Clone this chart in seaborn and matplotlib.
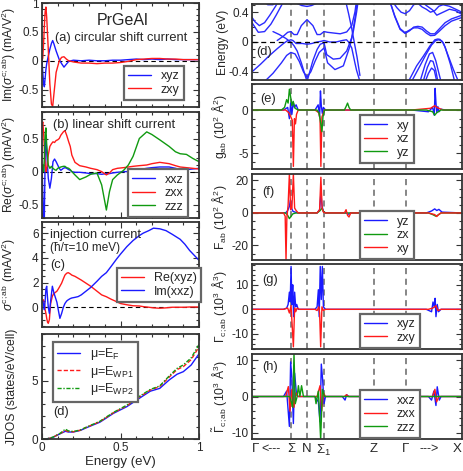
import numpy as np
import seaborn as sns
import matplotlib.pyplot as plt
import matplotlib.ticker as mtick

BLUE = "#1a1aff"
RED = "#ff1a1a"
GREEN = "#109a10"

# ---------------- left column: photocurrents and JDOS ----------------
x_a = [0, 0.005, 0.01, 0.015, 0.02, 0.025, 0.03, 0.04, 0.05, 0.06, 0.068, 0.075, 0.09,
       0.11, 0.125, 0.14, 0.155, 0.17, 0.2, 0.25, 0.3, 0.35, 0.4, 0.45, 0.5, 0.55, 0.6,
       0.65, 0.7, 0.75, 0.8, 0.85, 0.9, 0.95, 1.0]
circ_xyz = [0, -0.2, -0.38, -0.45, -0.3, -0.15, -0.05, 0.08, 0.2, 0.3, 0.35, 0.3, 0.17,
            0.02, -0.05, -0.11, -0.06, -0.01, 0.01, 0.0, 0.01, 0.0, 0.0, 0.01, 0.01, 0.02,
            0.03, 0.02, 0.03, 0.02, 0.03, 0.02, 0.02, 0.02, 0.02]
circ_zxy = [0, 0.05, 0.3, 0.6, 0.85, 0.93, 0.75, 0.2, -0.4, -0.75, -0.79, -0.6, -0.2,
            0.0, 0.06, 0.07, 0.03, 0.0, -0.02, -0.04, -0.04, -0.05, -0.04, -0.04, -0.03,
            -0.01, 0.02, 0.03, 0.04, 0.04, 0.03, 0.03, 0.02, 0.02, 0.02]

x_b = [0, 0.005, 0.01, 0.015, 0.02, 0.025, 0.03, 0.04, 0.05, 0.06, 0.07, 0.08, 0.09, 0.1,
       0.11, 0.12, 0.136, 0.146, 0.157, 0.17, 0.18, 0.19, 0.21, 0.24, 0.28, 0.31, 0.35,
       0.38, 0.41, 0.43, 0.45, 0.48, 0.52, 0.55, 0.58, 0.62, 0.667, 0.7, 0.75, 0.81, 0.85,
       0.88, 0.92, 0.96, 1.0]
lin_xxz = [0.1, -0.3, -0.7, -0.7, 0.2, 0.55, 0.3, -0.1, -0.25, -0.1, 0.15, 0.19, 0.15, 0.1,
           0.05, 0.02, 0.05, 0.06, 0.05, 0.03, 0.02, 0.0, -0.01, -0.01, -0.02, -0.03, -0.03,
           -0.04, -0.03, -0.03, -0.02, -0.01, 0.0, 0.0, 0.01, 0.03, 0.05, 0.06, 0.07, 0.07,
           0.05, 0.03, 0.03, 0.04, 0.05]
lin_zxx = [0.7, 0.75, 0.6, 0.35, 0.1, 0.0, 0.05, 0.25, 0.38, 0.42, 0.45, 0.44, 0.47, 0.48,
           0.5, 0.55, 0.6, 0.62, 0.55, 0.45, 0.38, 0.25, 0.14, 0.09, 0.07, 0.05, 0.03, 0.0,
           -0.05, -0.02, 0.03, 0.05, 0.06, 0.07, 0.08, 0.09, 0.1, 0.12, 0.14, 0.12, 0.09,
           0.07, 0.06, 0.05, 0.04]
lin_zzz = [0.1, 0.1, 0.0, 0.2, 0.55, 0.66, 0.4, 0.1, 0.05, 0.08, 0.05, 0.03, 0.02, 0.05,
           0.06, 0.07, 0.08, 0.08, 0.06, 0.05, 0.03, 0.0, -0.05, -0.12, -0.08, -0.04, -0.02,
           -0.2, -0.58, -0.3, -0.12, -0.05, 0.02, 0.1, 0.23, 0.5, 0.6, 0.56, 0.48, 0.38, 0.3,
           0.27, 0.26, 0.2, 0.15]

x_c = [0, 0.005, 0.01, 0.015, 0.02, 0.025, 0.03, 0.035, 0.04, 0.047, 0.055, 0.066, 0.075,
       0.085, 0.095, 0.105, 0.114, 0.125, 0.136, 0.146, 0.157, 0.167, 0.18, 0.19, 0.21,
       0.23, 0.25, 0.28, 0.31, 0.35, 0.38, 0.41, 0.44, 0.475, 0.5, 0.54, 0.58, 0.62, 0.645,
       0.68, 0.71, 0.75, 0.79, 0.83, 0.88, 0.91, 0.94, 0.97, 1.0]
inj_re_xyz = [0.4, 0.5, 0.6, 0.3, -0.2, -0.5, -0.9, -1.2, -1.3, -1.0, 0.3, 0.9, 1.1, 1.2,
              1.3, 1.5, 1.7, 1.95, 2.3, 2.6, 2.75, 2.8, 2.7, 2.6, 2.5, 2.35, 2.2, 1.95, 1.7,
              1.3, 1.0, 0.85, 0.65, 0.45, 0.3, 0.2, 0.12, 0.1, 0.05, 0.0, -0.05, -0.08,
              -0.05, 0.0, 0.0, 0.0, 0.02, 0.02, 0.02]
inj_im_xxz = [0.4, 0.5, 0.2, -0.2, 0.5, 1.5, 1.7, 0.8, 0.0, -0.5, 0.5, 1.7, 1.2, 0.8, 0.4,
              -0.3, -0.9, -0.5, 0.0, 0.3, 0.5, 0.6, 0.7, 0.75, 0.8, 0.86, 1.0, 1.3, 1.6, 2.1,
              2.5, 2.8, 3.3, 3.9, 4.3, 4.9, 5.4, 5.8, 6.0, 6.2, 6.4, 6.35, 6.2, 5.9, 5.5, 5.1,
              4.6, 4.2, 3.8]

x_d = [0, 0.03, 0.053, 0.074, 0.117, 0.149, 0.167, 0.2, 0.245, 0.28, 0.37, 0.455, 0.54,
       0.62, 0.69, 0.75, 0.81, 0.86, 0.9, 0.95, 1.0]
jdos_ef = [0, 0.02, 0.06, 0.17, 0.46, 0.66, 0.6, 0.6, 0.74, 0.95, 1.45, 2.2, 2.77, 3.49,
           4.1, 4.34, 5.06, 5.55, 5.77, 6.34, 7.3]
jdos_wp1 = [0, 0.02, 0.07, 0.18, 0.48, 0.72, 0.64, 0.62, 0.76, 0.98, 1.5, 2.25, 2.85, 3.6,
            4.2, 4.5, 5.3, 5.95, 6.2, 6.8, 7.9]
jdos_wp2 = [0, 0.03, 0.08, 0.19, 0.5, 0.85, 0.7, 0.64, 0.78, 1.0, 1.53, 2.28, 2.9, 3.65,
            4.25, 4.55, 5.4, 6.05, 6.35, 6.95, 8.1]

# ---------------- right column: k-path ----------------
K_SIGMA, K_N, K_SIGMA1, K_Z, K_GAMMA = 0.186, 0.262, 0.343, 0.581, 0.733
path_ticks = [0.0, K_SIGMA, K_N, K_SIGMA1, K_Z, K_GAMMA, 1.0]
path_labels = ["Γ", "Σ", "N", r"Σ$_1$", "Z", "Γ", "X"]

# band structure (k along path, energy in eV)
b01_k = [0.0, 0.015, 0.035, 0.06, 0.085, 0.11, 0.13]
b01_e = [0.33, 0.27, 0.22, 0.26, 0.36, 0.47, 0.56]
b02_k = [0.0, 0.03, 0.06, 0.09, 0.115, 0.14, 0.155]
b02_e = [0.26, 0.13, 0.14, 0.24, 0.36, 0.49, 0.56]
b03_k = [0.05, 0.075, 0.1, 0.12]
b03_e = [0.56, 0.5, 0.5, 0.56]
b04_k = [0.197, 0.213, 0.236, 0.262, 0.284, 0.308, 0.324]
b04_e = [0.56, 0.52, 0.49, 0.477, 0.49, 0.52, 0.56]
b05_k = [0.0, 0.04, 0.08, 0.12, 0.15, 0.17, 0.185, 0.2, 0.215, 0.235, 0.25, 0.262]
b05_e = [-0.4, -0.3, -0.19, -0.09, -0.02, 0.02, 0.0, -0.05, -0.12, -0.28, -0.42, -0.53]
b06_k = [0.262, 0.275, 0.29, 0.31, 0.325, 0.343, 0.356, 0.387, 0.419, 0.451, 0.475, 0.49, 0.502]
b06_e = [-0.53, -0.4, -0.25, -0.1, -0.03, -0.01, -0.17, -0.23, -0.22, -0.12, 0.06, 0.31, 0.56]
b07_k = [0.06, 0.1, 0.14, 0.165, 0.185, 0.205, 0.225, 0.245, 0.262]
b07_e = [-0.53, -0.42, -0.28, -0.18, -0.14, -0.16, -0.26, -0.4, -0.47]
b08_k = [0.262, 0.28, 0.3, 0.32, 0.343, 0.36, 0.395, 0.435, 0.467, 0.483, 0.498, 0.506]
b08_e = [-0.47, -0.4, -0.26, -0.14, -0.08, -0.28, -0.37, -0.32, -0.05, 0.15, 0.4, 0.56]
b09_k = [0.12, 0.15, 0.17, 0.185, 0.2, 0.215, 0.235, 0.262, 0.29, 0.31, 0.325, 0.343,
         0.36, 0.39, 0.42, 0.451, 0.475, 0.49, 0.498]
b09_e = [0.02, 0.08, 0.13, 0.14, 0.1, 0.1, 0.22, 0.3, 0.22, 0.1, 0.1, 0.14, 0.13, 0.12,
         0.11, 0.135, 0.22, 0.4, 0.56]
b10_k = [0.1, 0.13, 0.16, 0.175, 0.185, 0.195, 0.21, 0.24, 0.262, 0.285, 0.31, 0.33, 0.343,
         0.37, 0.4, 0.43, 0.45, 0.46, 0.475, 0.49, 0.498, 0.514]
b10_e = [0.14, 0.1, 0.05, 0.02, 0.03, 0.02, -0.02, -0.02, -0.03, -0.02, 0.0, 0.01, 0.02,
         0.0, 0.0, 0.02, 0.03, 0.0, -0.08, -0.28, -0.38, -0.53]
b11_k = [0.445, 0.46, 0.475, 0.49, 0.5, 0.514]
b11_e = [0.56, 0.38, 0.18, -0.05, -0.2, -0.45]
b12_k = [0.655, 0.68, 0.705, 0.729, 0.75, 0.77, 0.79, 0.81, 0.83, 0.85, 0.87, 0.89, 0.92, 0.95, 1.0]
b12_e = [0.56, 0.34, 0.17, 0.115, 0.15, 0.2, 0.21, 0.2, 0.15, 0.11, 0.11, 0.17, 0.26, 0.31, 0.36]
b13_k = [0.655, 0.68, 0.705, 0.729, 0.75, 0.77, 0.79, 0.81, 0.83, 0.85, 0.87, 0.89, 0.92, 0.95, 1.0]
b13_e = [0.56, 0.35, 0.18, 0.125, 0.16, 0.19, 0.19, 0.17, 0.12, 0.085, 0.09, 0.14, 0.22, 0.28, 0.33]
b14_k = [0.665, 0.69, 0.71, 0.729, 0.75, 0.77, 0.79, 0.81, 0.83, 0.85, 0.87, 0.89, 0.91, 0.94, 0.97, 1.0]
b14_e = [0.56, 0.46, 0.4, 0.38, 0.42, 0.5, 0.52, 0.47, 0.44, 0.4, 0.42, 0.48, 0.5, 0.48, 0.44, 0.4]
b15_k = [0.8, 0.83, 0.86, 0.88, 0.91, 0.94, 0.97, 1.0]
b15_e = [0.56, 0.49, 0.43, 0.36, 0.4, 0.44, 0.42, 0.37]
b16_k = [0.745, 0.784, 0.816, 0.848, 0.871, 0.885, 0.895, 0.911, 0.935, 0.959, 0.983]
b16_e = [-0.53, -0.32, -0.19, -0.05, 0.03, 0.04, 0.035, -0.01, -0.19, -0.37, -0.53]
b17_k = [0.76, 0.8, 0.83, 0.855, 0.875, 0.89, 0.905, 0.92, 0.945, 0.965]
b17_e = [-0.53, -0.32, -0.16, -0.04, 0.02, 0.03, 0.01, -0.07, -0.3, -0.53]
b18_k = [0.8, 0.825, 0.845, 0.86, 0.875, 0.89, 0.9]
b18_e = [-0.53, -0.3, -0.16, -0.14, -0.25, -0.42, -0.53]
b19_k = [0.815, 0.835, 0.85, 0.862, 0.875, 0.885]
b19_e = [-0.53, -0.34, -0.25, -0.26, -0.38, -0.53]
b20_k = [0.825, 0.84, 0.855, 0.868, 0.88]
b20_e = [-0.53, -0.42, -0.35, -0.38, -0.53]

# (e) quantum metric g_ab
g_xy_k = [0, 0.15, 0.17, 0.178, 0.184, 0.19, 0.196, 0.202, 0.21, 0.22, 0.3, 0.315, 0.322,
          0.326, 0.33, 0.335, 0.34, 0.35, 0.45, 0.76, 0.84, 0.86, 0.868, 0.872, 0.876,
          0.88, 0.885, 0.89, 0.9, 0.92, 1.0]
g_xy = [0, 0, 0.3, -1.0, 0.8, -0.5, 0.9, 0.3, 0.6, 0, 0, 0.6, -0.8, 2.2, 0.5, -0.4, 0.3,
        0, 0, 0, -0.2, 0.3, -0.6, 2.5, 0.8, -0.3, 0.4, -0.2, 0.1, 0, 0]
g_xz_k = [0, 0.16, 0.175, 0.185, 0.192, 0.197, 0.202, 0.207, 0.212, 0.22, 0.3, 0.318,
          0.324, 0.328, 0.333, 0.345, 0.45, 0.76, 0.85, 0.87, 0.88, 0.89, 0.91, 1.0]
g_xz = [0, 0, -0.3, -0.8, -1.2, -6.5, -1.0, -1.6, -0.5, 0, 0, -0.3, -1.0, -6.5, -0.8, 0,
        0, 0, 0.2, 0.5, 0.3, 0.2, 0, 0]
g_yz_k = [0, 0.14, 0.155, 0.165, 0.172, 0.178, 0.184, 0.19, 0.196, 0.205, 0.22, 0.31,
          0.32, 0.327, 0.333, 0.338, 0.345, 0.44, 0.448, 0.455, 0.462, 0.47, 0.83, 0.86,
          0.87, 0.88, 0.9, 1.0]
g_yz = [0, 0, 0.3, 1.2, 0.8, 2.4, 1.5, 0.5, 1.0, 0.2, 0, 0, -0.4, -1.5, -2.5, -0.8, 0, 0,
        0.4, 0.8, 0.3, 0, 0, -0.2, -0.6, -0.3, 0, 0]

# (f) Berry curvature F_ab
f_yz_k = [0, 0.16, 0.17, 0.178, 0.183, 0.188, 0.195, 0.205, 0.22, 0.31, 0.322, 0.328,
          0.334, 0.34, 0.35, 0.45, 0.46, 0.47, 0.83, 0.855, 0.87, 0.88, 0.89, 0.905, 1.0]
f_yz = [0, 0, 1.5, 4, 8, 3, 1, 0.5, 0, 0, 2, 12, 4, 1, 0, 0, -0.8, 0, 0, 1.2, 2.5, 1.5,
        2.2, 0.5, 0]
f_zx_k = [0, 0.16, 0.17, 0.178, 0.186, 0.195, 0.21, 0.31, 0.325, 0.333, 0.34, 0.35, 0.84,
          0.86, 0.875, 0.89, 0.9, 1.0]
f_zx = [0, 0, -1.5, -3.5, -2.0, -0.5, 0, 0, 1.5, 3.0, 1.0, 0, 0, -1.0, -2.0, -1.0, 0, 0]
f_xy_k = [0, 0.15, 0.158, 0.162, 0.166, 0.172, 0.178, 0.184, 0.19, 0.197, 0.203, 0.21,
          0.22, 0.31, 0.322, 0.328, 0.334, 0.34, 0.35, 0.44, 0.448, 0.455, 0.462, 0.47,
          0.84, 0.87, 0.88, 0.89, 0.9, 1.0]
f_xy = [0, 0, -2, -29, -3, 5, 24, 2, 3, 24, 3, 1.5, 0, 0, 2, 22, 3, 0.5, 0, 0, 2.0, -1.5,
        -2.5, 0, 0, -1.0, -2.2, -0.8, 0, 0]

# (g) Gamma_c;ab
gam_xyz_k = [0, 0.15, 0.165, 0.172, 0.178, 0.182, 0.186, 0.19, 0.194, 0.198, 0.203,
             0.208, 0.213, 0.22, 0.3, 0.31, 0.316, 0.32, 0.325, 0.33, 0.335, 0.34, 0.35,
             0.83, 0.855, 0.862, 0.868, 0.872, 0.876, 0.882, 0.888, 0.9, 1.0]
gam_xyz = [0, 0, 0.5, 2, 7, 3, 17.5, 2, 10, -3, 7, 1, 2, 0, 0, 1, 8, -3, 17.5, 4, 17.5, 1,
           0, 0, -1, 3, 1, 4.5, -3, 2, -1, 0, 0]
gam_zxy_k = [0, 0.15, 0.17, 0.178, 0.186, 0.197, 0.203, 0.208, 0.215, 0.225, 0.3, 0.31,
             0.318, 0.322, 0.327, 0.333, 0.34, 0.35, 0.84, 0.86, 0.87, 0.876, 0.885, 0.9, 1.0]
gam_zxy = [0, 0, 0.5, -1.5, 1.5, -15.3, 0.5, -1, 0.5, 0, 0, -0.5, 1.0, -1.5, -15.3, 1.0,
           -0.5, 0, 0, 0.5, 1.0, 1.5, -0.5, 0, 0]

# (h) Gamma tilde_c;ab
gt_xxz_k = [0, 0.15, 0.165, 0.178, 0.184, 0.19, 0.197, 0.203, 0.212, 0.22, 0.3, 0.316,
            0.324, 0.33, 0.336, 0.343, 0.35, 0.43, 0.443, 0.451, 0.46, 0.84, 0.855, 0.866,
            0.876, 0.882, 0.892, 0.9, 1.0]
gt_xxz = [0, 0, 1.5, -8.3, 9.6, 5, -7.5, 6.5, 0.5, 0, 0, -1.5, -7, 9, 5, -2, 0, 0, -1,
          0.5, 0, 0, -1, 1.5, -2.5, 2.7, -1, 0, 0]
gt_zxx_k = [0, 0.16, 0.173, 0.181, 0.19, 0.2, 0.209, 0.22, 0.31, 0.324, 0.332, 0.34, 0.35,
            0.44, 0.45, 0.46, 0.86, 0.871, 0.879, 0.89, 1.0]
gt_zxx = [0, 0, 2.75, -4.1, 2.0, -3, 1, 0, 0, 3, -4, 1, 0, 0, 0.5, 0, 0, 2, -1.5, 0, 0]
gt_zzz_k = [0, 0.18, 0.194, 0.2, 0.206, 0.215, 0.221, 0.228, 0.236, 0.245, 0.3, 0.305,
            0.316, 0.327, 0.335, 0.345, 1.0]
gt_zzz = [0, 0, -3, 12, -2, 0, 3, 0, 3, 0, 0, -2, 1.5, -12, 2, 0, 0]


# ---------------- drawing ----------------
sns.set_style("ticks")
plt.rcParams["font.family"] = ["Liberation Sans", "DejaVu Sans"]
plt.rcParams["mathtext.fontset"] = "custom"
plt.rcParams["mathtext.rm"] = "Liberation Sans"
plt.rcParams["mathtext.it"] = "Liberation Sans:italic"
plt.rcParams["axes.unicode_minus"] = False

W, H = 463, 471
fig = plt.figure(figsize=(W / 100, H / 100), dpi=100)


def axes_px(x0, y0, x1, y1):
    return fig.add_axes([x0 / W, 1 - y1 / H, (x1 - x0) / W, (y1 - y0) / H])


def line(ax, x, y, color, lw=1.0, **kw):
    sns.lineplot(x=x, y=y, ax=ax, color=color, lw=lw, estimator=None, sort=False,
                 legend=False, **kw)


def frame(ax, ymaj, ymin, right=False):
    ax.yaxis.set_major_locator(mtick.MultipleLocator(ymaj))
    ax.yaxis.set_minor_locator(mtick.MultipleLocator(ymin))
    ax.tick_params(which="both", direction="in", top=not right, right=True,
                   labelsize=8.5, pad=2.5, width=0.8, color="0.2")
    ax.tick_params(which="major", length=4.5)
    ax.tick_params(which="minor", length=2.5)
    for s in ax.spines.values():
        s.set_linewidth(1.3)
        s.set_color("0.2")


def legend(ax, anchor, loc="lower left"):
    leg = ax.legend(loc=loc, bbox_to_anchor=anchor, frameon=True, fancybox=False,
                    edgecolor="0.4", framealpha=1, fontsize=9, handlelength=1.8,
                    handletextpad=0.8, borderpad=0.35, labelspacing=0.12,
                    borderaxespad=0)
    leg.get_frame().set_linewidth(1.6)


def zero(ax):
    ax.axhline(0, color="k", lw=0.8, ls=(0, (4, 3)), zorder=1)


LX = 42, 199
ax_a = axes_px(LX[0], 3, LX[1], 107)
ax_b = axes_px(LX[0], 112, LX[1], 218)
ax_c = axes_px(LX[0], 222, LX[1], 327)
ax_d = axes_px(LX[0], 334, LX[1], 439)

for ax in (ax_a, ax_b, ax_c, ax_d):
    ax.set_xlim(0, 1)
    ax.xaxis.set_major_locator(mtick.FixedLocator([0, 0.5, 1]))
    ax.xaxis.set_minor_locator(mtick.MultipleLocator(0.1))
    ax.xaxis.set_major_formatter(mtick.FuncFormatter(lambda v, p: f"{v:g}"))
    ax.yaxis.set_label_coords(-0.155, 0.5)

# (a)
zero(ax_a)
line(ax_a, x_a, circ_xyz, BLUE, label="xyz")
line(ax_a, x_a, circ_zxy, RED, label="zxy")
ax_a.set_ylim(-0.8, 1.0)
frame(ax_a, 0.5, 0.1)
ax_a.yaxis.set_major_formatter(mtick.FuncFormatter(lambda v, p: f"{v:g}"))
ax_a.set_ylabel(r"Im($\sigma^{\rm c;ab}$) (mA/V$^2$)", fontsize=8.7)
ax_a.text(0.51, 0.835, "PrGeAl", transform=ax_a.transAxes, fontsize=11.5,
          ha="center", va="center")
ax_a.text(0.083, 0.66, "(a) circular shift current", transform=ax_a.transAxes,
          fontsize=9.3, ha="left", va="center")
legend(ax_a, (0.522, 0.067))

# (b)
zero(ax_b)
line(ax_b, x_b, lin_xxz, BLUE, label="xxz")
line(ax_b, x_b, lin_zxx, RED, label="zxx")
line(ax_b, x_b, lin_zzz, GREEN, label="zzz")
ax_b.set_ylim(-0.7, 0.9)
frame(ax_b, 0.5, 0.1)
ax_b.yaxis.set_major_formatter(mtick.FuncFormatter(lambda v, p: f"{v:g}"))
ax_b.set_ylabel(r"Re($\sigma^{\rm c;ab}$) (mA/V$^2$)", fontsize=8.7)
ax_b.text(0.07, 0.877, "(b) linear shift current", transform=ax_b.transAxes,
          fontsize=9.3, ha="left", va="center")
legend(ax_b, (0.548, 0.01))

# (c)
zero(ax_c)
line(ax_c, x_c, inj_re_xyz, RED, label="Re(xyz)")
line(ax_c, x_c, inj_im_xxz, BLUE, label="Im(xxz)")
ax_c.set_ylim(-1.6, 6.9)
frame(ax_c, 2, 0.5)
ax_c.set_ylabel(r"$\sigma^{\rm c;ab}$ (mA/V$^2$)", fontsize=8.7)
ax_c.text(0.051, 0.876, "injection current", transform=ax_c.transAxes,
          fontsize=9.3, ha="left", va="center")
ax_c.text(0.051, 0.752, "(ħ/τ=10 meV)", transform=ax_c.transAxes,
          fontsize=8.5, ha="left", va="center")
ax_c.text(0.051, 0.59, "(c)", transform=ax_c.transAxes,
          fontsize=9.3, ha="left", va="center")
legend(ax_c, (0.478, 0.238))

# (d) JDOS
line(ax_d, x_d, jdos_ef, BLUE, label=r"μ=E$_{\rm F}$")
line(ax_d, x_d, jdos_wp1, RED, linestyle=(0, (3, 1.5)), label=r"μ=E$_{\rm WP1}$")
line(ax_d, x_d, jdos_wp2, GREEN, linestyle=(0, (3, 1.2, 1, 1.2)), label=r"μ=E$_{\rm WP2}$")
ax_d.set_ylim(0, 9)
frame(ax_d, 5, 1)
ax_d.set_ylabel("JDOS (states/eV/cell)", fontsize=8.7)
ax_d.set_xlabel("Energy (eV)", fontsize=9.5, labelpad=1)
ax_d.text(0.07, 0.257, "(d)", transform=ax_d.transAxes, fontsize=9.3,
          ha="left", va="center")
legend(ax_d, (0.07, 0.924), loc="upper left")
for ax in (ax_a, ax_b, ax_c):
    ax.tick_params(labelbottom=False)

# right column
RX = 252, 462
ax_bs = axes_px(RX[0], 4, RX[1], 80)
ax_e = axes_px(RX[0], 84, RX[1], 169)
ax_f = axes_px(RX[0], 174, RX[1], 260)
ax_g = axes_px(RX[0], 264, RX[1], 349)
ax_h = axes_px(RX[0], 354, RX[1], 439)

for ax in (ax_bs, ax_e, ax_f, ax_g, ax_h):
    for kv in path_ticks[1:-1]:
        ax.axvline(kv, color="0.4", lw=1.1, ls=(0, (4, 3)), zorder=1)

bands = [(b01_k, b01_e), (b02_k, b02_e), (b03_k, b03_e), (b04_k, b04_e), (b05_k, b05_e),
         (b06_k, b06_e), (b07_k, b07_e), (b08_k, b08_e), (b09_k, b09_e), (b10_k, b10_e),
         (b11_k, b11_e), (b12_k, b12_e), (b13_k, b13_e), (b14_k, b14_e), (b15_k, b15_e),
         (b16_k, b16_e), (b17_k, b17_e), (b18_k, b18_e), (b19_k, b19_e), (b20_k, b20_e)]
for bk, be in bands:
    line(ax_bs, bk, be, "#2a2aff", lw=1.0)
ax_bs.axhline(0, color="k", lw=0.9, ls=(0, (4, 3)), zorder=3)
ax_bs.set_ylim(-0.51, 0.51)
frame(ax_bs, 0.4, 0.1, right=True)
ax_bs.yaxis.set_major_formatter(mtick.FuncFormatter(lambda v, p: f"{v:g}"))
ax_bs.set_ylabel("Energy (eV)", fontsize=8.7)
ax_bs.text(0.02, 0.37, "(d)", transform=ax_bs.transAxes, fontsize=9.3, va="center")

line(ax_e, g_xy_k, g_xy, BLUE, label="xy")
line(ax_e, g_xz_k, g_xz, RED, label="xz")
line(ax_e, g_yz_k, g_yz, GREEN, label="yz")
ax_e.set_ylim(-6.8, 3.0)
frame(ax_e, 5, 1, right=True)
ax_e.set_ylabel(r"g$_{\rm ab}$ (10$^2$ Å$^2$)", fontsize=8.7)
ax_e.text(0.04, 0.82, "(e)", transform=ax_e.transAxes, fontsize=9.3, va="center")
legend(ax_e, (0.514, 0.07))

line(ax_f, f_yz_k, f_yz, BLUE, label="yz")
line(ax_f, f_zx_k, f_zx, GREEN, label="zx")
line(ax_f, f_xy_k, f_xy, RED, label="xy")
ax_f.set_ylim(-29, 24)
frame(ax_f, 20, 5, right=True)
ax_f.set_ylabel(r"F$_{\rm ab}$ (10$^2$ Å$^2$)", fontsize=8.7)
ax_f.text(0.05, 0.79, "(f)", transform=ax_f.transAxes, fontsize=9.3, va="center")
legend(ax_f, (0.514, 0.01))

line(ax_g, gam_xyz_k, gam_xyz, BLUE, label="xyz")
line(ax_g, gam_zxy_k, gam_zxy, RED, label="zxy")
ax_g.set_ylim(-16.2, 18.5)
frame(ax_g, 10, 2, right=True)
ax_g.set_ylabel(r"$\Gamma_{\rm c;ab}$ (10$^3$ Å$^3$)", fontsize=8.7)
ax_g.text(0.05, 0.81, "(g)", transform=ax_g.transAxes, fontsize=9.3, va="center")
legend(ax_g, (0.514, 0.01))

line(ax_h, gt_xxz_k, gt_xxz, BLUE, label="xxz")
line(ax_h, gt_zxx_k, gt_zxx, RED, label="zxx")
line(ax_h, gt_zzz_k, gt_zzz, GREEN, label="zzz")
ax_h.set_ylim(-11.8, 11.8)
frame(ax_h, 10, 2, right=True)
ax_h.set_ylabel(r"$\tilde{\Gamma}_{\rm c;ab}$ (10$^3$ Å$^3$)", fontsize=8.7)
ax_h.text(0.05, 0.85, "(h)", transform=ax_h.transAxes, fontsize=9.3, va="center")
legend(ax_h, (0.514, 0.01))

for ax in (ax_bs, ax_e, ax_f, ax_g, ax_h):
    ax.set_xlim(0, 1)
    ax.set_xticks(path_ticks)
    ax.tick_params(axis="x", which="both", length=0, top=False)
    ax.yaxis.set_label_coords(-0.11, 0.5)
    if ax is not ax_h:
        ax.tick_params(labelbottom=False)
ax_h.set_xticklabels(path_labels, fontsize=9.5)
ax_h.tick_params(axis="x", pad=3)
ax_h.get_xticklabels()[-1].set_ha("right")
ax_h.get_xticklabels()[0].set_ha("left")
ax_h.text(0.09, -0.045, "<---", transform=ax_h.transAxes, fontsize=9, ha="center", va="top")
ax_h.text(0.843, -0.045, "--->", transform=ax_h.transAxes, fontsize=9, ha="center", va="top")

fig.savefig("out.png", dpi=100)
